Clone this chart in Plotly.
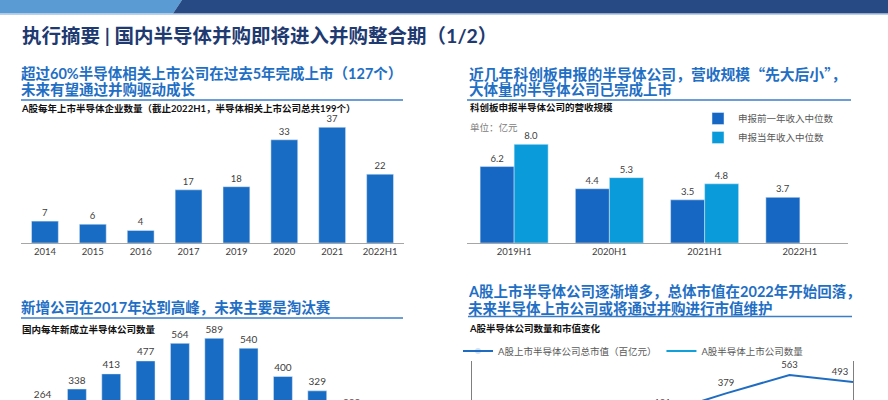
import plotly.graph_objects as go

W, H = 888, 400


def px(x):
    return x / W


def py(y):
    return 1 - y / H


# ---------------- data ----------------
# Chart 1: A-share semiconductor IPOs per year
c1_years = ["2014", "2015", "2016", "2017", "2019", "2020", "2021", "2022H1"]
c1_counts = [7, 6, 4, 17, 18, 33, 37, 22]

# Chart 2: STAR market applicants revenue median (亿元)
c2_periods = ["2019H1", "2020H1", "2021H1", "2022H1"]
c2_prev_year = [6.2, 4.4, 3.5, 3.7]
c2_curr_year = [8.0, 5.3, 4.8, None]
c2_names = ["申报前一年收入中位数", "申报当年收入中位数"]

# Chart 3: newly founded domestic semiconductor companies per year
c3_years = ["2012", "2013", "2014", "2015", "2016", "2017", "2018", "2019", "2020", "2021", "2022"]
c3_counts = [264, 338, 413, 477, 564, 589, 540, 400, 329, 228, 105]

# Chart 4: A-share semiconductor market cap and company count
c4_years = ["2016", "2017", "2018", "2019", "2020", "2021", "2022"]
c4_mktcap = [95, 110, 75, 181, 379, 563, 493]
c4_count = [72, 89, 89, 107, 140, 177, 199]
c4_names = ["A股上市半导体公司总市值（百亿元）", "A股半导体上市公司数量"]

# ---------------- style ----------------
FONT = "Lato, 'Noto Sans CJK SC', sans-serif"
CJK = "'Noto Sans CJK SC', sans-serif"
BAR = "#186CC4"
DARK = "#1667C3"
LIGHT = "#0A9BDB"
TITLE_BLUE = "#1F6FC5"
NAVY = "#1E3A70"
LABEL = "#404040"

# chart 3 value axis (bottom of bars lies below the visible page)
C3_TOP_PX = 330
C3_RANGE = [283.7, 630.2]
C3_SCALE = (H - C3_TOP_PX) / (C3_RANGE[1] - C3_RANGE[0])  # px per unit
C3_LABEL_SHIFT = 64.4  # label axis offset (value units) so labels sit above bar tops
C3_LABEL_TOP_PX = 250
C3_LABEL_RANGE = [C3_RANGE[0] - C3_LABEL_SHIFT,
                  C3_RANGE[0] - C3_LABEL_SHIFT + (H - C3_LABEL_TOP_PX) / C3_SCALE]

fig = go.Figure()

# Chart 1
fig.add_trace(go.Bar(
    x=c1_years, y=c1_counts, xaxis="x", yaxis="y",
    marker_color=BAR, width=0.56,
    text=c1_counts, textposition="outside",
    textfont=dict(size=9.5, color=LABEL, family=FONT),
    cliponaxis=False, showlegend=False, hoverinfo="skip",
))

# Chart 2
fig.add_trace(go.Bar(
    x=c2_periods, y=c2_prev_year, name=c2_names[0], xaxis="x2", yaxis="y2",
    marker_color=DARK, width=0.357, offset=-0.357,
    texttemplate="%{y:.1f}", textposition="outside",
    textfont=dict(size=9.5, color=LABEL, family=FONT),
    cliponaxis=False, legend="legend", hoverinfo="skip",
))
fig.add_trace(go.Bar(
    x=c2_periods, y=c2_curr_year, name=c2_names[1], xaxis="x2", yaxis="y2",
    marker_color=LIGHT, width=0.357, offset=0,
    texttemplate="%{y:.1f}", textposition="outside",
    textfont=dict(size=9.5, color=LABEL, family=FONT),
    cliponaxis=False, legend="legend", hoverinfo="skip",
))

# Chart 3
fig.add_trace(go.Bar(
    x=c3_years, y=c3_counts, xaxis="x3", yaxis="y3",
    marker_color=BAR, width=0.55, showlegend=False, hoverinfo="skip",
))
fig.add_trace(go.Scatter(
    x=c3_years, y=c3_counts, xaxis="x3", yaxis="y6", mode="text",
    text=c3_counts, textposition="bottom center",
    textfont=dict(size=10, color=LABEL, family=FONT),
    cliponaxis=False, showlegend=False, hoverinfo="skip",
))

# Chart 4
fig.add_trace(go.Scatter(
    x=list(range(len(c4_years))), y=c4_mktcap, name=c4_names[0],
    xaxis="x4", yaxis="y4", mode="lines+markers+text",
    line=dict(color="#1F6DC2", width=2),
    marker=dict(size=6, opacity=0, color="#1F6DC2"),
    text=c4_mktcap,
    textposition=["top center"] * (len(c4_years) - 1) + ["top left"],
    textfont=dict(size=9.5, color=LABEL, family=FONT),
    cliponaxis=True, legend="legend2", hoverinfo="skip",
))
fig.add_trace(go.Scatter(
    x=list(range(len(c4_years))), y=c4_count, name=c4_names[1],
    xaxis="x4", yaxis="y5", mode="lines",
    line=dict(color="#12A0DA", width=2),
    legend="legend2", hoverinfo="skip",
))

axis_common = dict(showgrid=False, zeroline=False, fixedrange=True)

fig.update_layout(
    width=W, height=H,
    margin=dict(l=0, r=0, t=0, b=0),
    paper_bgcolor="white", plot_bgcolor="rgba(0,0,0,0)",
    font=dict(family=FONT, size=10, color=LABEL),
    barmode="group",
    xaxis=dict(domain=[px(21), px(404)], type="category", showline=True,
               linecolor="#A6A6A6", linewidth=1, ticks="", anchor="y",
               tickfont=dict(size=9.5, color=LABEL, family=FONT), **axis_common),
    yaxis=dict(domain=[py(243), py(115)], range=[0, 40.93], visible=False,
               anchor="x", **axis_common),
    xaxis2=dict(domain=[px(466.5), px(847.5)], type="category", showline=True,
                linecolor="#A6A6A6", linewidth=1, ticks="", anchor="y2",
                tickfont=dict(size=9.5, color=LABEL, family=FONT), **axis_common),
    yaxis2=dict(domain=[py(243), py(115)], range=[0, 10.38], visible=False,
                anchor="x2", **axis_common),
    xaxis3=dict(domain=[px(23.5), px(405)], type="category", visible=False,
                anchor="y3", **axis_common),
    yaxis3=dict(domain=[0, py(C3_TOP_PX)], range=C3_RANGE, visible=False,
                anchor="x3", **axis_common),
    yaxis6=dict(domain=[0, py(C3_LABEL_TOP_PX)], range=C3_LABEL_RANGE,
                visible=False, anchor="x3", **axis_common),
    xaxis4=dict(domain=[px(472), px(853)], range=[0, 6], visible=False,
                anchor="y4", **axis_common),
    yaxis4=dict(domain=[0, py(361)], range=[313, 703], showline=True, mirror=True,
                linecolor="#7F7F7F", linewidth=1.2, showticklabels=False, ticks="",
                anchor="x4", **axis_common),
    yaxis5=dict(overlaying="y4", range=[250, 500], visible=False, anchor="x4",
                **axis_common),
    legend=dict(x=px(698), xanchor="left", y=py(104), yanchor="top",
                orientation="v", bgcolor="rgba(0,0,0,0)",
                font=dict(size=9.5, color="#595959", family=CJK),
                tracegroupgap=0, itemclick=False, itemdoubleclick=False),
    legend2=dict(x=px(458), xanchor="left", y=py(351), yanchor="middle",
                 orientation="h", bgcolor="rgba(0,0,0,0)",
                 font=dict(size=9.5, color="#595959", family=FONT),
                 itemclick=False, itemdoubleclick=False),
)

# ---------------- decorations ----------------
shapes = [
    # top banner
    dict(type="path", xref="paper", yref="paper",
         path=f"M 0 {py(0)} L {px(182)} {py(0)} L {px(173)} {py(13.5)} L 0 {py(13.5)} Z",
         fillcolor="#5B9BD3", line=dict(width=0), layer="above"),
    dict(type="path", xref="paper", yref="paper",
         path=f"M {px(182)} {py(0)} L 1 {py(0)} L 1 {py(13.5)} L {px(173)} {py(13.5)} Z",
         fillcolor="#284A84", line=dict(width=0), layer="above"),
    dict(type="line", xref="paper", yref="paper", x0=0, x1=1, y0=py(14.3), y1=py(14.3),
         line=dict(color="#A9C3E3", width=1)),
    # title underlines
    dict(type="line", xref="paper", yref="paper", x0=px(21), x1=px(403), y0=py(100), y1=py(100),
         line=dict(color="#3C7DC8", width=1.5)),
    dict(type="line", xref="paper", yref="paper", x0=px(467), x1=px(851), y0=py(100), y1=py(100),
         line=dict(color="#3C7DC8", width=1.5)),
    dict(type="line", xref="paper", yref="paper", x0=px(21), x1=px(403), y0=py(318), y1=py(318),
         line=dict(color="#3C7DC8", width=1.5)),
    dict(type="line", xref="paper", yref="paper", x0=px(468), x1=px(852), y0=py(316.5), y1=py(316.5),
         line=dict(color="#3C7DC8", width=1.5)),
]


def ann(text, x, y, size, color, bold=False, family=FONT):
    t = f"<b>{text}</b>" if bold else text
    return dict(text=t, x=px(x), y=py(y), xref="paper", yref="paper",
                xanchor="left", yanchor="middle", showarrow=False,
                font=dict(size=size, color=color, family=family))


annotations = [
    ann("执行摘要 | 国内半导体并购即将进入并购整合期（1/2）", 20, 36, 19.5, NAVY, True),
    ann("超过60%半导体相关上市公司在过去5年完成上市（127个）", 19, 73, 14.5, TITLE_BLUE, True),
    ann("未来有望通过并购驱动成长", 19, 90, 14.5, TITLE_BLUE, True),
    ann("A股每年上市半导体企业数量（截止2022H1，半导体相关上市公司总共199个）", 19, 108, 9.5, "#111111", True),
    ann("近几年科创板申报的半导体公司，营收规模“先大后小”，", 467, 73, 14.8, TITLE_BLUE, True, CJK),
    ann("大体量的半导体公司已完成上市", 467, 90, 14.5, TITLE_BLUE, True),
    ann("科创板申报半导体公司的营收规模", 468, 107, 9.5, "#111111", True),
    ann("单位：亿元", 468, 127, 9.5, "#808080"),
    ann("新增公司在2017年达到高峰，未来主要是淘汰赛", 19, 307, 14.5, TITLE_BLUE, True),
    ann("国内每年新成立半导体公司数量", 20, 329, 9.5, "#111111", True),
    ann("A股上市半导体公司逐渐增多，总体市值在2022年开始回落，", 466, 291, 14.5, TITLE_BLUE, True),
    ann("未来半导体上市公司或将通过并购进行市值维护", 466, 308, 14.5, TITLE_BLUE, True),
    ann("A股半导体公司数量和市值变化", 467, 328, 9.5, "#111111", True),
]

fig.update_layout(shapes=shapes, annotations=annotations)

fig.write_html("out.html")
